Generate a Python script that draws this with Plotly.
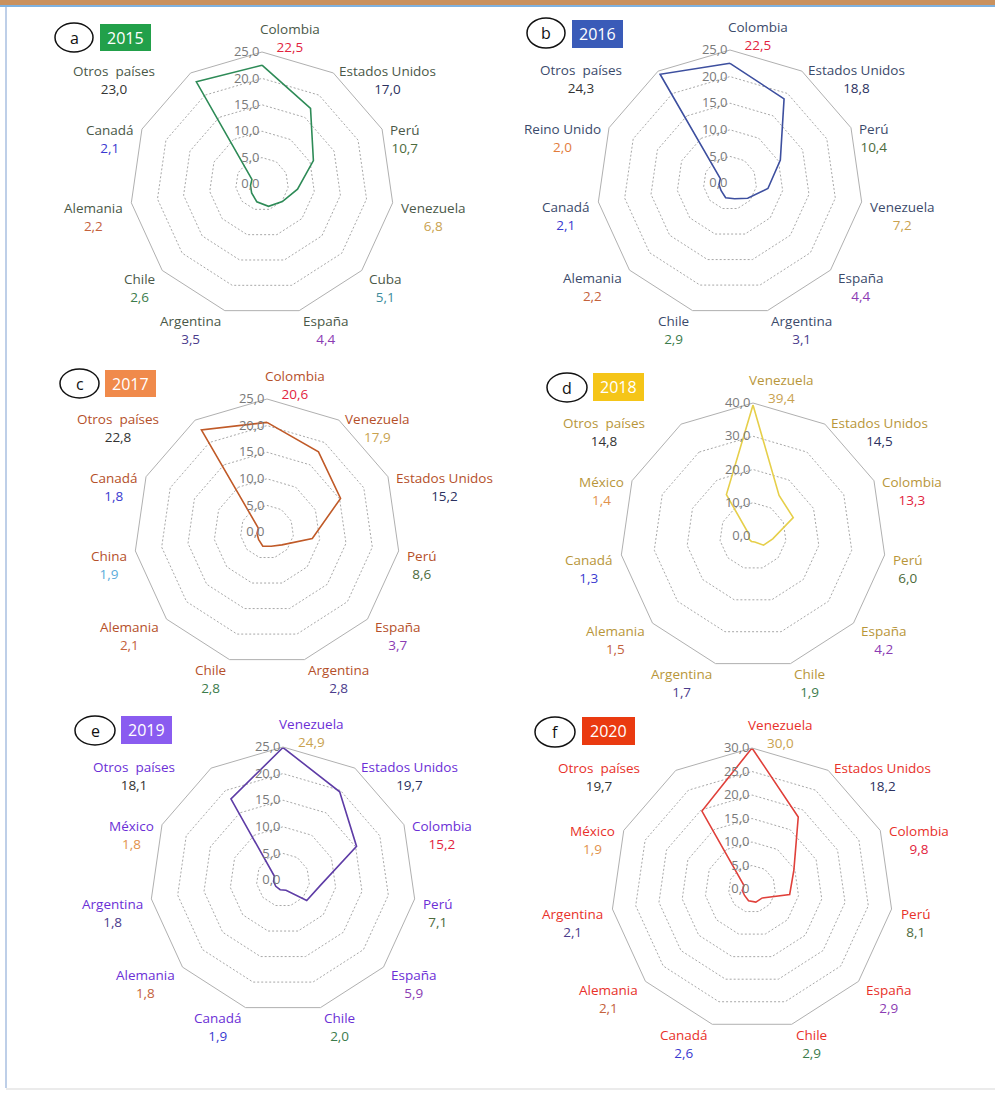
import math
import plotly.graph_objects as go

W, H = 995, 1093
FONT = "Open Sans"

# ---- data -------------------------------------------------------------
cats_2015 = ["Colombia", "Estados Unidos", "Perú", "Venezuela", "Cuba", "España",
             "Argentina", "Chile", "Alemania", "Canadá", "Otros  países"]
vals_2015 = [22.5, 17.0, 10.7, 6.8, 5.1, 4.4, 3.5, 2.6, 2.2, 2.1, 23.0]

cats_2016 = ["Colombia", "Estados Unidos", "Perú", "Venezuela", "España", "Argentina",
             "Chile", "Alemania", "Canadá", "Reino Unido", "Otros  países"]
vals_2016 = [22.5, 18.8, 10.4, 7.2, 4.4, 3.1, 2.9, 2.2, 2.1, 2.0, 24.3]

cats_2017 = ["Colombia", "Venezuela", "Estados Unidos", "Perú", "España", "Argentina",
             "Chile", "Alemania", "China", "Canadá", "Otros  países"]
vals_2017 = [20.6, 17.9, 15.2, 8.6, 3.7, 2.8, 2.8, 2.1, 1.9, 1.8, 22.8]

cats_2018 = ["Venezuela", "Estados Unidos", "Colombia", "Perú", "España", "Chile",
             "Argentina", "Alemania", "Canadá", "México", "Otros  países"]
vals_2018 = [39.4, 14.5, 13.3, 6.0, 4.2, 1.9, 1.7, 1.5, 1.3, 1.4, 14.8]

cats_2019 = ["Venezuela", "Estados Unidos", "Colombia", "Perú", "España", "Chile",
             "Canadá", "Alemania", "Argentina", "México", "Otros  países"]
vals_2019 = [24.9, 19.7, 15.2, 7.1, 5.9, 2.0, 1.9, 1.8, 1.8, 1.8, 18.1]

cats_2020 = ["Venezuela", "Estados Unidos", "Colombia", "Perú", "España", "Chile",
             "Canadá", "Alemania", "Argentina", "México", "Otros  países"]
vals_2020 = [30.0, 18.2, 9.8, 8.1, 2.9, 2.9, 2.6, 2.1, 2.1, 1.9, 19.7]

years = ["2015", "2016", "2017", "2018", "2019", "2020"]
panel_letters = ["a", "b", "c", "d", "e", "f"]
radial_max = [25, 25, 25, 40, 25, 30]
radial_step = [5, 5, 5, 10, 5, 5]

# ---- styling ----------------------------------------------------------
value_colors = {
    "Colombia": "#e2233d", "Estados Unidos": "#2b3160", "Perú": "#4d6b3c",
    "Venezuela": "#c9a24f", "Cuba": "#3c8c9c", "España": "#8b3cb3",
    "Argentina": "#4b3c8c", "Chile": "#3c7c4c", "Alemania": "#c4623c",
    "Canadá": "#3a3ad0", "Otros  países": "#333333", "Reino Unido": "#e27c3c",
    "China": "#5cacda", "México": "#e2924c",
}
name_colors = ["#4a5848", "#3b4a6b", "#b5502a", "#b8963a", "#6b2fd6", "#e8312a"]
line_colors = ["#2e8b57", "#3d4f9f", "#c05a28", "#e6cf4a", "#5e3ca6", "#e0403a"]
badge_colors = ["#22a04a", "#3a5bb8", "#f08a4b", "#f5c518", "#8a5cf0", "#ea3a10"]

# panel geometry in pixels: centre x, centre y, outer radius
geom = [(262, 184, 132), (730, 183, 133), (267, 532, 133),
        (753, 536, 133), (283, 880, 133), (752, 889, 141)]
# panel tag positions (ellipse box, badge box) in pixels
tags = [((55, 23, 93, 52), (100, 24, 151, 51)),
        ((527, 18, 565, 48), (572, 20, 623, 48)),
        ((60, 369, 99, 398), (105, 370, 156, 397)),
        ((547, 373, 587, 402), (593, 373, 644, 401)),
        ((75, 716, 115, 745), (121, 716, 172, 744)),
        ((535, 717, 575, 747), (582, 717, 635, 745))]

all_cats = [cats_2015, cats_2016, cats_2017, cats_2018, cats_2019, cats_2020]
all_vals = [vals_2015, vals_2016, vals_2017, vals_2018, vals_2019, vals_2020]


def px(x):
    return x / W


def py(y):
    return 1 - y / H


def fmt(v):
    return f"{v:.1f}".replace(".", ",")


fig = go.Figure()
annotations = []
shapes = []

for p in range(6):
    cats, vals = all_cats[p], all_vals[p]
    cx, cy, R = geom[p]
    pid = "polar" if p == 0 else f"polar{p + 1}"
    fig.add_trace(go.Scatterpolar(
        r=vals + vals[:1], theta=cats + cats[:1], mode="lines",
        line=dict(color=line_colors[p], width=1.6),
        subplot=pid, showlegend=False, hoverinfo="skip",
    ))
    fig.layout[pid] = dict(
        domain=dict(x=[px(cx - R), px(cx + R)], y=[py(cy + R), py(cy - R)]),
        gridshape="linear",
        bgcolor="white",
        angularaxis=dict(rotation=90, direction="clockwise", showticklabels=False,
                         ticks="", showgrid=False, showline=True,
                         linecolor="#b0b0b0", linewidth=1,
                         categoryorder="array", categoryarray=cats),
        radialaxis=dict(range=[0, radial_max[p]], dtick=radial_step[p], tick0=0,
                        tickformat=".1f", angle=90, tickangle=90,
                        side="counterclockwise", showline=False, ticks="",
                        gridcolor="#a8a8a8", griddash="2px,2px", gridwidth=1,
                        tickfont=dict(family=FONT, size=13, color="#7a7a7a")),
    )

    # category name + value labels around the polygon
    n = len(cats)
    for i, (c, v) in enumerate(zip(cats, vals)):
        th = math.radians(i * 360 / n)
        text = (f"<span style='color:{name_colors[p]}'>{c}</span><br>"
                f"<span style='color:{value_colors[c]}'>{fmt(v)}</span>")
        if i == 0:
            ax_, ay_ = cx + 28, cy - R + 6
            xa, ya = "center", "bottom"
        else:
            k = 1.05
            ax_ = cx + math.sin(th) * R * k
            ay_ = cy - math.cos(th) * R * k - 7
            if i == n - 1:
                ax_ -= 30
            s = math.sin(th)
            xa = "left" if s > 0.05 else ("right" if s < -0.05 else "center")
            ya = "top"
        annotations.append(dict(
            x=px(ax_), y=py(ay_), xref="paper", yref="paper", text=text,
            showarrow=False, xanchor=xa, yanchor=ya, align="center",
            font=dict(family=FONT, size=13.5, color=name_colors[p]),
        ))

    # panel letter in an ellipse and the year badge
    (ex0, ey0, ex1, ey1), (bx0, by0, bx1, by1) = tags[p]
    shapes.append(dict(type="circle", xref="paper", yref="paper",
                       x0=px(ex0), x1=px(ex1), y0=py(ey1), y1=py(ey0),
                       line=dict(color="#111111", width=1.5), fillcolor="white"))
    annotations.append(dict(x=px((ex0 + ex1) / 2), y=py((ey0 + ey1) / 2),
                            xref="paper", yref="paper", text=panel_letters[p],
                            showarrow=False, xanchor="center", yanchor="middle",
                            font=dict(family=FONT, size=16, color="#111111")))
    shapes.append(dict(type="rect", xref="paper", yref="paper",
                       x0=px(bx0), x1=px(bx1), y0=py(by1), y1=py(by0),
                       line=dict(width=0), fillcolor=badge_colors[p]))
    annotations.append(dict(x=px((bx0 + bx1) / 2), y=py((by0 + by1) / 2),
                            xref="paper", yref="paper", text=years[p],
                            showarrow=False, xanchor="center", yanchor="middle",
                            font=dict(family=FONT, size=16, color="white")))

# page frame: top banner strip, blue rule, left rule and bottom rule
shapes += [
    dict(type="rect", xref="paper", yref="paper", x0=0, x1=1, y0=py(5), y1=1,
         line=dict(width=0), fillcolor="#c9915e", layer="above"),
    dict(type="line", xref="paper", yref="paper", x0=0, x1=1, y0=py(6), y1=py(6),
         line=dict(color="#7fb2e0", width=2)),
    dict(type="line", xref="paper", yref="paper", x0=px(6), x1=px(6), y0=py(1088), y1=py(7),
         line=dict(color="#a9bfe0", width=1.5)),
    dict(type="line", xref="paper", yref="paper", x0=px(6), x1=1, y0=py(1089), y1=py(1089),
         line=dict(color="#e4e4e4", width=1.5)),
]

fig.update_layout(
    width=W, height=H, margin=dict(l=0, r=0, t=0, b=0),
    paper_bgcolor="white", plot_bgcolor="white",
    separators=",.", showlegend=False,
    annotations=annotations, shapes=shapes,
    font=dict(family=FONT),
)

fig.write_html("out.html")
